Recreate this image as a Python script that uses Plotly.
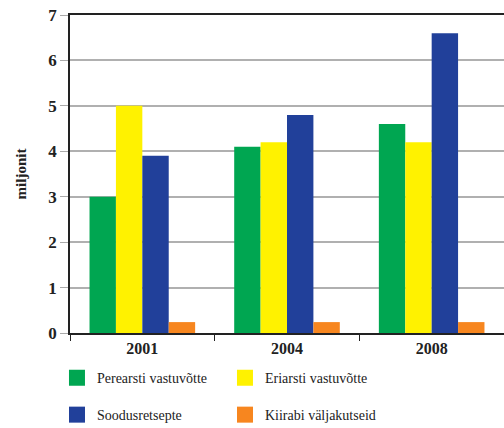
import plotly.graph_objects as go

years = ["2001", "2004", "2008"]
perearsti = [3.0, 4.1, 4.6]
eriarsti = [5.0, 4.2, 4.2]
soodus = [3.9, 4.8, 6.6]
kiirabi = [0.24, 0.24, 0.24]

series = [
    ("Perearsti vastuvõtte", perearsti, "#00A651", "legend"),
    ("Eriarsti vastuvõtte", eriarsti, "#FFF200", "legend"),
    ("Soodusretsepte", soodus, "#21409A", "legend2"),
    ("Kiirabi väljakutseid", kiirabi, "#F7861F", "legend2"),
]

font = "Liberation Serif"

fig = go.Figure()
for name, vals, col, leg in series:
    fig.add_trace(go.Bar(x=years, y=vals, name=name, marker_color=col,
                         marker_line_width=0, showlegend=False))
    # bigger square symbol for the legend
    fig.add_trace(go.Scatter(x=[None], y=[None], name=name, mode="markers",
                             marker=dict(symbol="square", size=16, color=col),
                             legend=leg))

leg_common = dict(orientation="h", x=-0.03, xanchor="left", yanchor="middle",
                  entrywidth=123, entrywidthmode="pixels", itemsizing="trace",
                  font=dict(family=font, size=14, color="#222"),
                  bgcolor="rgba(0,0,0,0)")

fig.update_layout(
    width=504, height=428,
    margin=dict(l=70, r=0, t=15, b=95, autoexpand=False),
    paper_bgcolor="white", plot_bgcolor="white",
    barmode="group", bargap=0.27, bargroupgap=0,
    font=dict(family=font, color="#222"),
    legend=dict(y=-0.142, **leg_common),
    legend2=dict(y=-0.258, **leg_common),
    xaxis=dict(
        type="category", tickson="boundaries", ticks="outside", ticklen=6,
        tickcolor="#222", showline=True, linecolor="#222", linewidth=1.5,
        mirror=True, showgrid=False, automargin=False,
        tickfont=dict(family=font, size=16, color="#222", weight="bold"),
    ),
    yaxis=dict(
        range=[0, 7], dtick=1, ticks="outside", ticklen=8, tickcolor="#aaa",
        showline=True, linecolor="#222", linewidth=1.5, automargin=False,
        showgrid=True, gridcolor="#b0b0b0", gridwidth=1.5, zeroline=False,
        tickfont=dict(family=font, size=17, color="#222", weight="bold"),
        title=dict(text="miljonit", standoff=18,
                   font=dict(family=font, size=15, color="#222", weight="bold")),
    ),
)

# page body has a default 8px margin; drop it so the figure fills the window
fig.write_html("out.html", config={"displayModeBar": False},
               post_script="document.body.style.margin='0';")
